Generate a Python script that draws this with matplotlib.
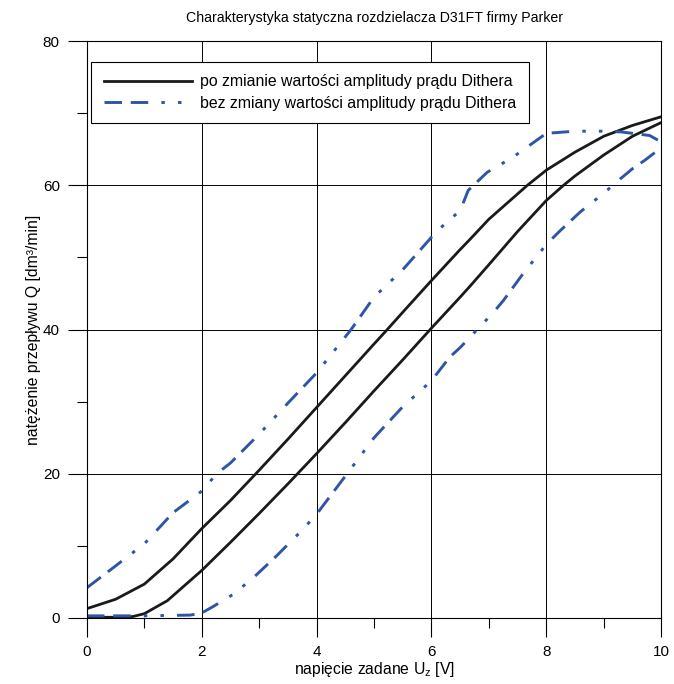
import numpy as np
from matplotlib import pyplot as plt

plt.rcParams['font.family'] = ['Liberation Sans', 'DejaVu Sans']
plt.rcParams['mathtext.fontset'] = 'custom'
plt.rcParams['mathtext.rm'] = 'Liberation Sans'

# po zmianie wartosci amplitudy - galaz gorna i dolna (czarne)
x_po_gora = [0, 0.5, 1, 1.5, 2, 2.5, 3, 3.5, 4, 4.5, 5, 5.23, 5.5, 6, 6.5, 6.67, 7, 7.67, 8, 8.5, 9, 9.5, 10]
y_po_gora = [1.3, 2.6, 4.7, 8.2, 12.4, 16.3, 20.5, 24.8, 29.2, 33.6, 38, 40, 42.4, 46.8, 51.1, 52.5, 55.3, 60, 62.1, 64.6, 66.8, 68.3, 69.5]

x_po_dol = [0, 0.5, 0.8, 1, 1.4, 2, 2.5, 3, 3.5, 4, 4.5, 5, 5.5, 6, 6.5, 6.67, 7, 7.5, 8, 8.3, 8.5, 9, 9.5, 10]
y_po_dol = [0.1, 0.1, 0.2, 0.6, 2.4, 6.6, 10.5, 14.5, 18.6, 22.8, 27.1, 31.5, 35.8, 40.2, 44.5, 46.0, 49.0, 53.6, 57.9, 60, 61.3, 64.2, 66.8, 68.7]

# bez zmiany wartosci amplitudy (niebieskie)
x_bez_gora = [0, 0.43, 1, 1.5, 2, 2.26, 2.5, 3, 3.5, 4, 4.6, 5, 5.5, 6, 6.2, 6.5, 6.64, 6.97, 7.42, 8, 8.5, 9, 9.3, 9.8, 10]
y_bez_gora = [4.2, 6.8, 10.3, 14.6, 17.6, 20, 21.5, 25.5, 29.8, 34, 40, 44.5, 48.3, 52.8, 54.4, 56.5, 59.3, 61.8, 63.9, 67.2, 67.5, 67.5, 67.4, 66.9, 66]

x_bez_dol = [0, 1, 1.8, 2.0, 2.2, 2.55, 2.9, 3.3, 3.7, 4, 4.53, 5, 5.5, 6, 6.32, 6.5, 7.07, 7.25, 7.6, 8, 8.24, 8.59, 9, 9.23, 9.5, 9.72, 9.9, 10]
y_bez_dol = [0.3, 0.3, 0.4, 0.7, 1.6, 3.3, 5.6, 8.6, 11.8, 14.4, 20, 25, 29.3, 32.9, 36.2, 37.5, 42.3, 44, 47.8, 51.8, 53.7, 56.3, 58.9, 60.5, 62.3, 63.5, 64.6, 66]

label_po = 'po zmianie wartości amplitudy prądu Dithera'
label_bez = 'bez zmiany wartości amplitudy prądu Dithera'

black = '#1a1a1a'
blue = '#2f55a6'
dash = (6, 3, 6, 4.5, 1.2, 4.5, 1.2, 4.5)

fig = plt.figure(figsize=(6.74, 6.84), dpi=100)
ax = fig.add_axes([0.129, 0.0965, 0.852, 0.8435])

ax.plot(x_po_gora, y_po_gora, color=black, lw=2.0, label=label_po)
ax.plot(x_po_dol, y_po_dol, color=black, lw=2.0)
ax.plot(x_bez_gora, y_bez_gora, color=blue, lw=2.1, dashes=dash, label=label_bez)
ax.plot(x_bez_dol, y_bez_dol, color=blue, lw=2.1, dashes=dash)

ax.set_xlim(0, 10)
ax.set_ylim(0, 80)
ax.set_xticks([0, 2, 4, 6, 8, 10])
ax.set_xticks([1, 3, 5, 7, 9], minor=True)
ax.set_yticks([0, 20, 40, 60, 80])
ax.set_yticks([10, 30, 50, 70], minor=True)
ax.tick_params(which='major', direction='out', length=13.5, width=0.8, labelsize=11, pad=6)
ax.tick_params(which='minor', direction='out', length=7, width=0.8)
ax.grid(True, which='major', color='black', lw=0.7)
for s in ax.spines.values():
    s.set_linewidth(0.8)

ax.set_title('Charakterystyka statyczna rozdzielacza D31FT firmy Parker', fontsize=10.2, pad=14)
ax.set_xlabel('napięcie zadane U$_{\\mathrm{z}}$ [V]', fontsize=11.3, labelpad=1)
ax.set_ylabel('natężenie przepływu Q [dm³/min]', fontsize=11.3, labelpad=1)

leg = ax.legend(loc='upper left', bbox_to_anchor=(0.007, 0.964), fancybox=False,
                framealpha=1, edgecolor='black', fontsize=11.4, handlelength=5.57,
                borderpad=0.8, labelspacing=0.4, handletextpad=0.5, borderaxespad=0)
leg.get_frame().set_linewidth(0.8)

fig.savefig('out.png', dpi=100)
